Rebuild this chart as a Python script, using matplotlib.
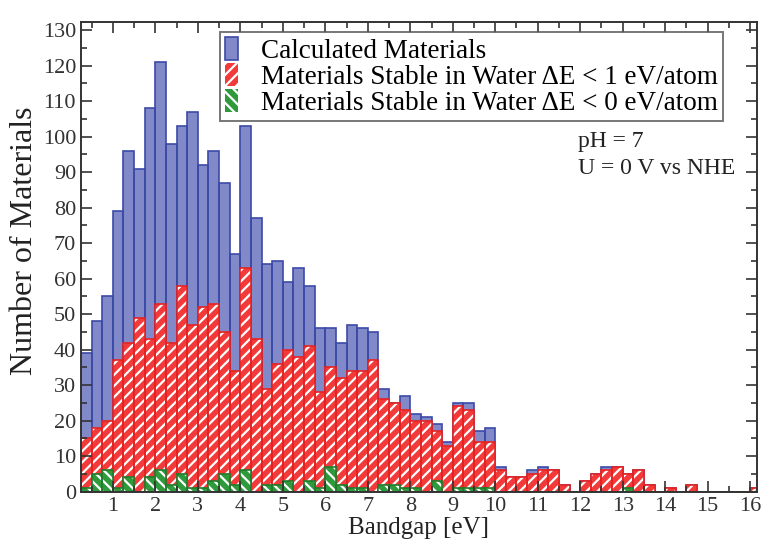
import matplotlib
matplotlib.use("Agg")
import matplotlib.pyplot as plt
import numpy as np
from matplotlib.patches import Patch
from matplotlib.ticker import MultipleLocator

plt.rcParams['font.family'] = ['Liberation Serif', 'DejaVu Serif']
plt.rcParams['hatch.linewidth'] = 1.6

# histogram bins: 0.25 eV wide, first bin starts at 0.25 eV
bin_width = 0.25
bin_start = 0.25

calculated = [39, 48, 55, 79, 96, 91, 108, 121, 98, 103, 107, 92, 96, 87, 67, 103,
              77, 64, 65, 59, 63, 58, 46, 46, 42, 47, 46, 45, 29, 25, 27, 22,
              21, 19, 14, 25, 25, 17, 18, 7, 4, 4, 6, 7, 6, 2, 0, 3,
              5, 7, 7, 5, 6, 2, 0, 1, 0, 2, 0, 0, 0, 0, 0, 1]
stable_1ev = [15, 18, 20, 37, 42, 49, 43, 53, 42, 58, 47, 52, 53, 45, 34, 63,
              43, 29, 36, 40, 38, 41, 28, 35, 32, 34, 34, 37, 26, 25, 23, 20,
              20, 17, 13, 24, 23, 14, 14, 6, 4, 4, 5, 6, 6, 2, 0, 3,
              5, 6, 7, 5, 6, 2, 0, 1, 0, 2, 0, 0, 0, 0, 0, 1]
stable_0ev = [1, 5, 6, 1, 4, 0, 4, 6, 2, 5, 1, 1, 3, 5, 2, 6,
              0, 2, 2, 3, 0, 3, 1, 7, 2, 1, 1, 0, 2, 2, 1, 1,
              0, 3, 0, 1, 1, 1, 1, 0, 0, 0, 0, 0, 0, 0, 0, 0,
              0, 0, 0, 1, 0, 0, 0, 0, 0, 0, 0, 0, 0, 0, 0, 0]

labels = ["Calculated Materials",
          "Materials Stable in Water \u0394E < 1 eV/atom",
          "Materials Stable in Water \u0394E < 0 eV/atom"]

left_edges = bin_start + bin_width * np.arange(len(calculated))

fig = plt.figure(figsize=(7.61, 5.50), dpi=100)
ax = fig.add_axes([0.1064, 0.106, 0.8883, 0.854])

blue_face, blue_edge = '#8189c9', '#3c4aa8'
red_face, red_edge = '#f23a3a', '#e52222'
green_face, green_edge = '#2e9a3c', '#1f7d2c'


def draw_layer(values, face, hatch_col, edge, hatch):
    if hatch:
        ax.bar(left_edges, values, width=bin_width, align='edge', color=face,
               edgecolor=hatch_col, hatch=hatch, linewidth=0)
    else:
        ax.bar(left_edges, values, width=bin_width, align='edge', color=face,
               linewidth=0)
    ax.bar(left_edges, values, width=bin_width, align='edge', fill=False,
           edgecolor=edge, linewidth=1.2)


draw_layer(calculated, blue_face, None, blue_edge, None)
draw_layer(stable_1ev, red_face, 'white', red_edge, '///')
draw_layer(stable_0ev, green_face, 'white', green_edge, '\\\\\\')

ax.set_xlim(0.25, 16.16)
ax.set_ylim(0, 132.3)
ax.set_xticks(range(1, 17))
ax.set_yticks(range(0, 131, 10))
ax.xaxis.set_minor_locator(MultipleLocator(0.5))
ax.yaxis.set_minor_locator(MultipleLocator(5))
ax.tick_params(which='both', direction='in', top=True, right=True,
               labelsize=16, colors='#333333', width=1.2)
ax.tick_params(which='major', length=8)
ax.tick_params(which='minor', length=4)
for s in ax.spines.values():
    s.set_linewidth(1.4)
    s.set_color('#333333')

ax.set_xlabel("Bandgap [eV]", fontsize=18, color='#222222', labelpad=1)
ax.set_ylabel("Number of Materials", fontsize=23, color='#222222')
ax.yaxis.set_label_coords(-0.062, 0.535)

handles = [
    Patch(facecolor=blue_face, edgecolor=blue_edge, linewidth=1.2),
    Patch(facecolor=red_face, edgecolor='white', hatch='///', linewidth=0),
    Patch(facecolor=green_face, edgecolor='white', hatch='\\\\\\', linewidth=0),
]
leg = ax.legend(handles, labels, loc='upper left', bbox_to_anchor=(0.2056, 0.979),
                borderaxespad=0, fontsize=19.5, frameon=True, fancybox=False,
                handlelength=0.45, handleheight=0.9, handletextpad=0.85,
                labelspacing=-0.02, borderpad=0.2)
leg.get_frame().set_edgecolor('#555555')
leg.get_frame().set_linewidth(1.4)

ax.text(0.735, 0.745, "pH = 7", transform=ax.transAxes, fontsize=17,
        color='#222222', va='center')
ax.text(0.735, 0.688, "U = 0 V vs NHE", transform=ax.transAxes, fontsize=17,
        color='#222222', va='center')

fig.savefig("out.png", dpi=100)
